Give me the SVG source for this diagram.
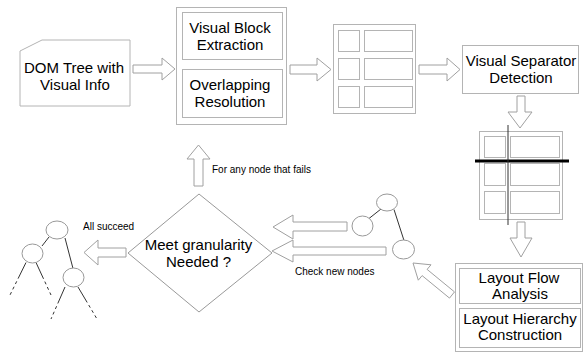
<svg xmlns="http://www.w3.org/2000/svg" width="583" height="354" viewBox="0 0 583 354">
<style>
.box{fill:#fff;stroke:#b4b4b4;stroke-width:1}
.arr{fill:#fff;stroke:#a0a0a0;stroke-width:1}
.circ{fill:#fff;stroke:#999;stroke-width:1}
.tl{stroke:#333;stroke-width:1;fill:none}
.t{font-family:"Liberation Sans",Arial,sans-serif;font-size:15px;fill:#000;text-anchor:middle}
.s{font-family:"Liberation Sans",Arial,sans-serif;font-size:10px;fill:#000}
</style>
<rect width="583" height="354" fill="#fff"/>
<g id="dom">
<polygon class="box" points="42,40 130,40 130,106 20,106 20,51"/>
<text class="t" x="74" y="73">DOM Tree with</text>
<text class="t" x="75" y="90">Visual Info</text>
</g>
<g id="extraction">
<rect class="box" x="176.5" y="7.5" width="110" height="117"/>
<rect class="box" x="182.5" y="12.5" width="100" height="47"/>
<rect class="box" x="182.5" y="69.5" width="100" height="48"/>
<text class="t" x="230" y="33">Visual Block</text>
<text class="t" x="230" y="49.5">Extraction</text>
<text class="t" x="230" y="90">Overlapping</text>
<text class="t" x="230" y="106.5">Resolution</text>
</g>
<g id="blocks">
<rect class="box" x="333.5" y="24.5" width="82" height="89"/>
<rect class="box" x="338.5" y="30.5" width="21" height="21"/>
<rect class="box" x="364.5" y="30.5" width="48" height="21"/>
<rect class="box" x="338.5" y="58.5" width="21" height="21"/>
<rect class="box" x="364.5" y="58.5" width="48" height="21"/>
<rect class="box" x="338.5" y="86.5" width="21" height="21"/>
<rect class="box" x="364.5" y="86.5" width="48" height="21"/>
</g>
<g id="separator">
<rect class="box" x="462.5" y="45.5" width="116" height="48"/>
<text class="t" x="521" y="66">Visual Separator</text>
<text class="t" x="521" y="83">Detection</text>
</g>
<g id="separated-blocks">
<rect class="box" x="479.5" y="131.5" width="83" height="88"/>
<rect class="box" x="484.5" y="136.5" width="21" height="21"/>
<rect class="box" x="510.5" y="136.5" width="49" height="21"/>
<rect class="box" x="484.5" y="163.5" width="21" height="22"/>
<rect class="box" x="510.5" y="163.5" width="49" height="22"/>
<rect class="box" x="484.5" y="191.5" width="21" height="22"/>
<rect class="box" x="510.5" y="191.5" width="49" height="22"/>
<line x1="475" y1="161" x2="569" y2="161" stroke="#000" stroke-width="3"/>
<line x1="508" y1="125" x2="508" y2="225" stroke="#333" stroke-width="1"/>
</g>
<g id="layout">
<rect class="box" x="455.5" y="263.5" width="127" height="88"/>
<rect class="box" x="459.5" y="268.5" width="121" height="35"/>
<rect class="box" x="459.5" y="308.5" width="121" height="39"/>
<text class="t" x="519" y="283">Layout Flow</text>
<text class="t" x="520" y="299">Analysis</text>
<text class="t" x="520" y="324">Layout Hierarchy</text>
<text class="t" x="520" y="340">Construction</text>
</g>
<g id="new-nodes">
<line class="tl" x1="381" y1="209" x2="369" y2="218.5"/>
<line class="tl" x1="394" y1="209.5" x2="404" y2="240.5"/>
<ellipse class="circ" cx="387" cy="202.5" rx="10.5" ry="8.5"/>
<ellipse class="circ" cx="362.5" cy="226" rx="10.5" ry="10"/>
<ellipse class="circ" cx="403.5" cy="249.5" rx="11" ry="9.5"/>
</g>
<g id="decision">
<polygon points="199,194 272,253 199,312 128,253" fill="#fff" stroke="#999" stroke-width="1"/>
<text class="t" x="198.5" y="250">Meet granularity</text>
<text class="t" x="198.5" y="266.5">Needed ?</text>
</g>
<g id="result-tree">
<line class="tl" x1="49" y1="237" x2="42" y2="246"/>
<line class="tl" x1="65" y1="238" x2="73" y2="268.5"/>
<line class="tl" x1="26" y1="262.5" x2="10" y2="295" stroke-dasharray="18 3 3 3 3 3 3 3"/>
<line class="tl" x1="36" y1="262.5" x2="51" y2="295" stroke-dasharray="18 3 3 3 3 3 3 3"/>
<line class="tl" x1="65" y1="287" x2="51" y2="319" stroke-dasharray="18 3 3 3 3 3 3 3"/>
<line class="tl" x1="78" y1="287" x2="97" y2="319" stroke-dasharray="18 3 3 3 3 3 3 3"/>
<ellipse class="circ" cx="57" cy="230" rx="11" ry="9"/>
<ellipse class="circ" cx="32.5" cy="253.5" rx="10.5" ry="9.5"/>
<ellipse class="circ" cx="73.5" cy="277.5" rx="10.5" ry="9.5"/>
</g>
<g id="connectors">
<polygon class="arr" points="133,65 162,65 162,58 175,69 162,80 162,73 133,73"/>
<polygon class="arr" points="290,65 317,65 317,58 331,69.5 317,81 317,74 290,74"/>
<polygon class="arr" points="419,65 447,65 447,58 460,69.5 447,81 447,74 419,74"/>
<polygon class="arr" points="517,96 525,96 525,112 532,112 520,128 508,112 517,112"/>
<polygon class="arr" points="517,222 525,222 525,238 532,238 521,257 510,238 517,238"/>
<polygon class="arr" points="413,263 431,264.8 427.1,269.4 454.5,291.9 449.5,298.1 422.1,275.6 418.3,280.2"/>
<polygon class="arr" points="347,222 293,222 293,215 273,227 293,239 293,231 347,231"/>
<polygon class="arr" points="386,247 293,247 293,240 272,251 293,262 293,255 386,255"/>
<polygon class="arr" points="126,248 98,248 98,240 84,252.5 98,265 98,257 126,257"/>
<polygon class="arr" points="194,186 194,159 187,159 198.5,145 210,159 203,159 203,186"/>
<text class="s" x="212" y="173">For any node that fails</text>
<text class="s" x="83" y="230">All succeed</text>
<text class="s" x="295" y="275">Check new nodes</text>
</g>
</svg>
